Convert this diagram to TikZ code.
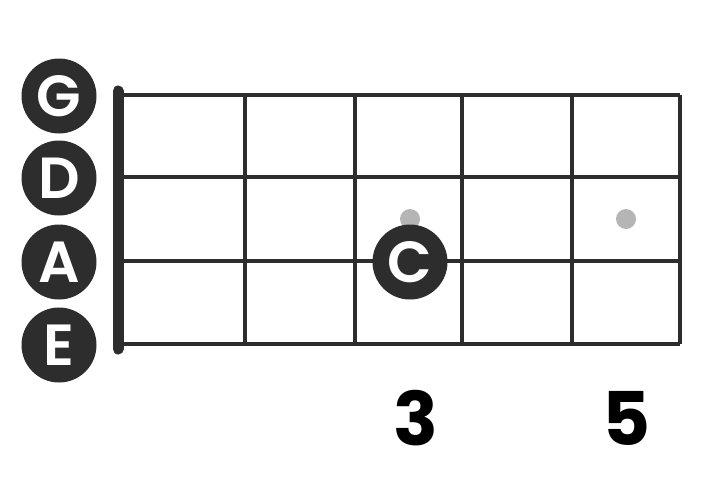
\documentclass[tikz,border=0pt]{standalone}
\usepackage{fontspec}
\setmainfont{Poppins}[UprightFont=* SemiBold, BoldFont=* Bold]
\definecolor{dark}{HTML}{2D2D2D}
\definecolor{dotgray}{HTML}{B5B5B5}
\begin{document}
\begin{tikzpicture}[x=1pt,y=-1pt,
  gridline/.style={draw=dark,line width=4pt},
  nutline/.style={draw=dark,line width=11pt,line cap=round},
  strlabel/.style={circle,fill=dark,minimum size=75pt,inner sep=0pt,text=white,font=\fontsize{58}{58}\selectfont},
  dotmark/.style={circle,fill=dotgray,minimum size=20pt,inner sep=0pt},
  fretnum/.style={inner sep=0pt,text=black,font=\fontsize{74}{74}\selectfont\bfseries}]
\useasboundingbox (0,0) rectangle (725,483);
% strings
\foreach \y/\n in {95/s1,177/s2,261/s3,344/s4}{
  \coordinate (\n l) at (118,\y);
  \coordinate (\n r) at (680,\y);
  \draw[gridline] (\n l) -- (\n r);
}
% frets
\foreach \x/\n in {245/f1,355/f2,462/f3,572/f4,680/f5}{
  \coordinate (\n t) at (\x,95);
  \coordinate (\n b) at (\x,344);
  \draw[gridline] (\n t) -- (\n b);
}
% nut
\coordinate (nt) at (118,91);
\coordinate (nb) at (118,349);
\draw[nutline] (nt) -- (nb);
% string labels
\node[strlabel] (G) at (59,96) {G};
\node[strlabel] (D) at (59,178) {D};
\node[strlabel] (A) at (59,262) {A};
\node[strlabel] (E) at (59,345) {E};
% dots
\node[dotmark] (d3) at (410,219) {};
\node[dotmark] (d5) at (626,219) {};
% finger
\node[strlabel] (C) at (410,262) {C};
% numbers
\node[fretnum] (n3) at (416,418) {3};
\node[fretnum] (n5) at (627,418) {5};
\end{tikzpicture}
\end{document}
